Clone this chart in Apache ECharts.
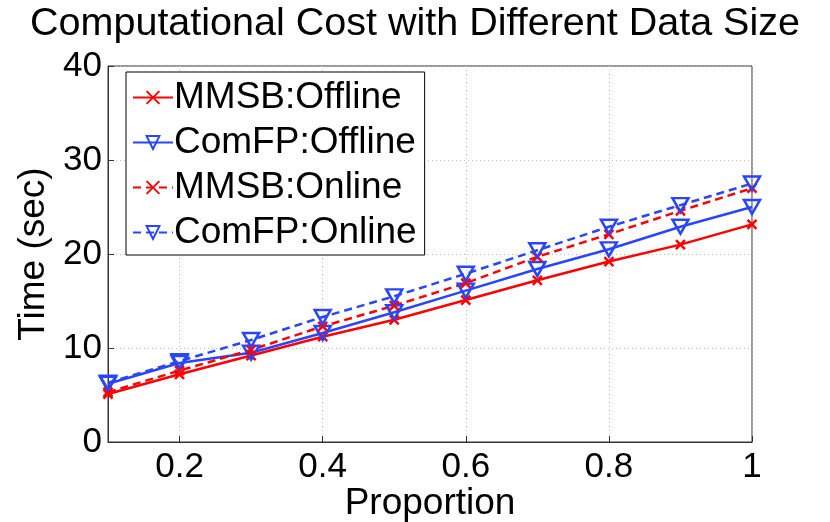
<!DOCTYPE html>
<html>
<head>
    <meta charset="utf-8">
    <title>Computational Cost</title>
    <script src="https://cdn.jsdelivr.net/npm/echarts@6/dist/echarts.min.js"></script>
    <style>
        body { margin: 0; background: #fff; }
    </style>
</head>
<body>
    <div id="main" style="width:830px;height:522px;"></div>
    <script type="text/javascript">
        // data
        var proportion = [0.1, 0.2, 0.3, 0.4, 0.5, 0.6, 0.7, 0.8, 0.9, 1.0];
        var mmsbOffline = [5.1, 7.2, 9.2, 11.2, 13.0, 15.1, 17.2, 19.2, 21.0, 23.15];
        var comfpOffline = [6.2, 8.4, 9.5, 11.6, 13.8, 16.1, 18.4, 20.5, 22.9, 25.0];
        var mmsbOnline = [5.3, 7.6, 9.8, 12.3, 14.5, 16.9, 19.7, 22.1, 24.6, 27.0];
        var comfpOnline = [6.3, 8.6, 10.85, 13.3, 15.5, 17.9, 20.4, 22.9, 25.2, 27.5];
        var xTicks = [0.2, 0.4, 0.6, 0.8, 1];
        var names = ["MMSB:Offline", "ComFP:Offline", "MMSB:Online", "ComFP:Online"];

        var RED = "#ff0000";
        var BLUE = "#2846ff";
        var FONT = "Liberation Sans";
        var crossSym = "path://M0,0 L10,10 M10,0 L0,10";
        var triSym = "path://M0,0 L10,0 L5,9 Z";

        function pairs(vals) {
            return proportion.map(function (p, i) { return [p, vals[i]]; });
        }

        function makeSeries(name, vals, color, dashed, sym, size) {
            return {
                name: name,
                type: "line",
                data: pairs(vals),
                symbol: sym,
                symbolSize: size,
                showAllSymbol: true,
                lineStyle: { color: color, width: 2.5, type: dashed ? [8, 5] : "solid" },
                itemStyle: { color: "rgba(0,0,0,0)", borderColor: color, borderWidth: 2.5 },
                emphasis: { disabled: true },
                z: 3
            };
        }

        var myChart = echarts.init(document.getElementById("main"));
        var option = {
            backgroundColor: "#fff",
            animation: false,
            title: [{
                text: "Computational Cost with Different Data Size",
                left: "center",
                top: -1,
                textStyle: { fontFamily: FONT, fontSize: 39.5, fontWeight: "normal", color: "#000" }
            }, {
                // x axis name, placed by hand under the tick labels
                text: "Proportion",
                left: 430,
                textAlign: "center",
                top: 485,
                padding: 0,
                textStyle: { fontFamily: FONT, fontSize: 37, fontWeight: "normal", color: "#000" }
            }],
            grid: {
                left: 108, right: 78, top: 66, bottom: 80,
                outerBoundsMode: "none",
                containLabel: false,
                show: true, borderColor: "#333", borderWidth: 1
            },
            legend: {
                orient: "vertical",
                left: 126,
                top: 72,
                data: names,
                itemWidth: 40,
                itemHeight: 16,
                itemGap: 8,
                padding: [7, 8, 4, 6],
                backgroundColor: "#fff",
                borderColor: "#000",
                borderWidth: 1,
                textStyle: { fontFamily: FONT, fontSize: 37, color: "#000", padding: [0, 0, 0, -4] }
            },
            xAxis: {
                type: "value",
                min: 0.1,
                max: 1,
                axisLine: { lineStyle: { color: "#333" } },
                axisTick: { inside: true, length: 6, customValues: xTicks, lineStyle: { color: "#333" } },
                axisLabel: {
                    customValues: xTicks,
                    fontFamily: FONT, fontSize: 35, color: "#000", margin: 8,
                    formatter: function (v) { return String(+v.toFixed(1)); }
                },
                splitLine: { show: true, lineStyle: { color: "#bbb", type: [1, 3] } }
            },
            yAxis: {
                type: "value",
                min: 0,
                max: 40,
                interval: 10,
                name: "Time (sec)",
                nameLocation: "middle",
                nameGap: 48,
                nameTextStyle: { fontFamily: FONT, fontSize: 37, color: "#000" },
                axisLine: { show: true, lineStyle: { color: "#333" } },
                axisTick: { show: true, inside: true, length: 6, lineStyle: { color: "#333" } },
                axisLabel: { fontFamily: FONT, fontSize: 35, color: "#000", margin: 6 },
                splitLine: { show: true, lineStyle: { color: "#bbb", type: [1, 3] } }
            },
            series: [
                makeSeries(names[0], mmsbOffline, RED, false, crossSym, 9),
                makeSeries(names[1], comfpOffline, BLUE, false, triSym, [16, 14]),
                makeSeries(names[2], mmsbOnline, RED, true, crossSym, 9),
                makeSeries(names[3], comfpOnline, BLUE, true, triSym, [16, 14])
            ]
        };
        myChart.setOption(option);
    </script>
</body>
</html>
